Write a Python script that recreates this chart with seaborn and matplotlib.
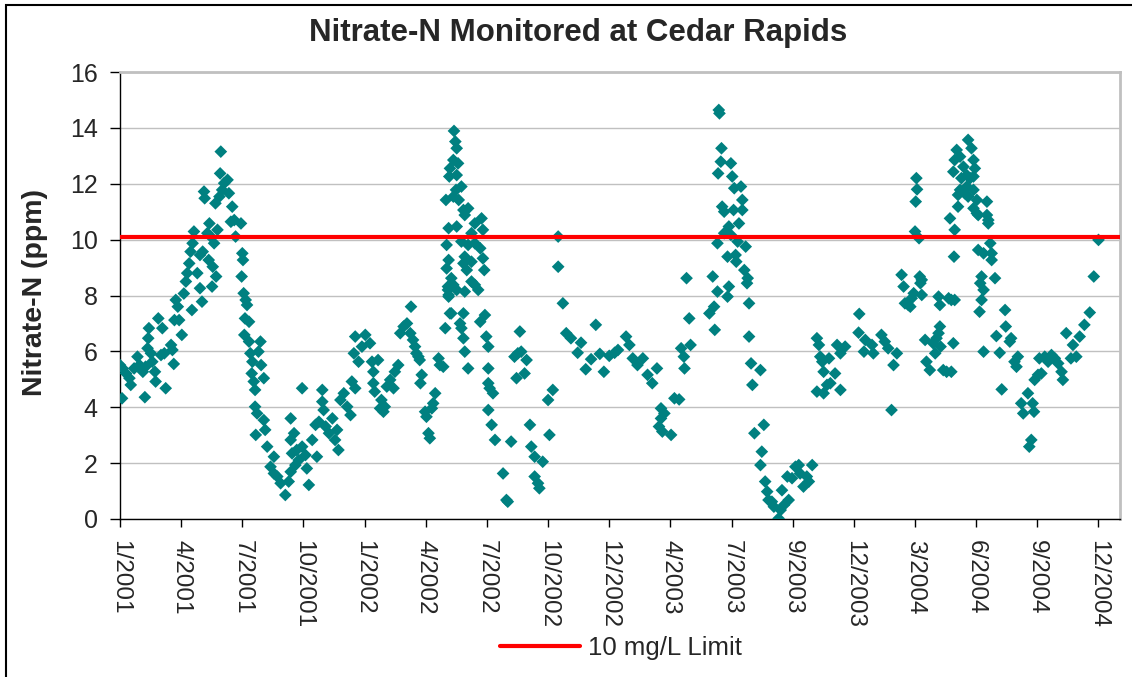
import pandas as pd
import matplotlib.pyplot as plt
import seaborn as sns
from matplotlib.lines import Line2D
from matplotlib.patches import Rectangle

# === DATA ===
# sample day = days since 1 Jan 2001, nitrate-N in ppm
DAY = [
    4, 1, 5, 10, 15, 17, 22, 27, 30, 35, 38, 39, 42, 43, 44, 47, 49, 53, 54, 58,
    62, 64, 67, 69, 77, 79, 81, 82, 84, 87, 89, 93, 96, 99, 101, 104, 106, 109, 111, 108,
    116, 120, 123, 120, 124, 126, 127, 131, 134, 136, 133, 139, 138, 144, 141, 146, 143, 149, 151, 150,
    153, 156, 161, 163, 168, 166, 171, 173,
    181, 183, 184, 182, 185, 188, 190, 187, 193, 186, 193, 195, 198, 210, 207, 211, 197, 200, 202, 215,
    202, 205, 215, 217, 203, 220, 230, 225, 230, 235, 240, 247, 252, 255, 255, 255, 260, 257, 264, 267,
    262, 272, 272, 277, 279, 282, 287, 292, 294, 297, 302, 302, 304, 307, 312, 317, 321, 326, 324, 329,
    334, 339, 346, 351, 344, 351, 349, 356, 361, 366,
    373, 376, 385, 378, 378, 380, 390, 388, 395, 393, 398, 403, 408, 410, 415, 418, 423, 428, 434, 433,
    437, 440, 442, 445, 447, 450, 448, 455, 457, 460, 462, 465, 467, 470, 475, 477, 482, 485, 492, 490,
    489, 487, 498, 500, 502, 497, 504, 492, 502, 491, 509, 501, 497, 486, 505, 512, 519, 514, 490, 502,
    529, 539, 541, 524, 487, 509, 519, 529, 537, 514, 541, 524, 490, 512, 517, 543, 494, 524, 497, 529,
    534, 489, 502, 514, 490, 494, 512, 507, 509, 544, 537, 512, 546, 549, 514, 519, 549, 549, 551, 556,
    549, 554, 559,
    571, 576, 578, 583, 588, 593, 598, 596, 606, 591, 603, 611, 613, 618, 618, 623, 625, 630, 640, 638,
    645, 653, 653, 660, 665, 672, 682, 687, 694, 702, 709, 715, 721, 729, 737, 742,
    754, 759, 764, 771, 779, 786, 793, 800, 806, 811, 806, 803, 808, 821, 826, 833, 836, 840, 841, 850,
    848, 844, 883, 878, 885, 886, 890, 892, 893, 896, 895, 891, 910, 912, 915, 925, 927, 897, 900, 914,
    927, 922, 907, 900, 910, 890, 920, 932, 905, 917, 918, 907, 905, 930, 935, 934, 937, 937, 940, 942,
    945,
    954, 959, 956, 954, 961, 964, 966, 971, 974, 981, 984, 989, 986, 996, 994, 1001, 1006, 1011, 1013, 1018,
    1023, 1026, 1031, 1038, 1041, 1043, 1046, 1048, 1056, 1053, 1058, 1038, 1048, 1065, 1073, 1068, 1073, 1080, 1101, 1100,
    1110, 1108, 1120, 1122,
    1134, 1139, 1144, 1157, 1152, 1149, 1164, 1167, 1169, 1174, 1179, 1182, 1177, 1186, 1187, 1185, 1184, 1190, 1191, 1194,
    1192, 1194, 1199, 1201, 1206, 1211, 1214, 1216, 1221, 1219, 1222, 1226, 1231, 1238, 1241, 1219, 1221, 1234, 1238, 1243,
    1242, 1243, 1236, 1248, 1241, 1243, 1246, 1251, 1256, 1253, 1251, 1248, 1258, 1263, 1268, 1271, 1273, 1261, 1266, 1271,
    1261, 1263, 1271, 1276, 1271, 1276, 1278, 1291, 1291, 1293, 1293, 1278, 1286, 1296, 1298, 1298, 1283, 1281, 1286, 1283,
    1280, 1303, 1286, 1305, 1310, 1318, 1319, 1313,
    1325, 1327, 1337, 1332, 1335, 1342, 1352, 1345, 1359, 1361, 1357, 1354, 1362, 1367, 1372, 1369, 1377, 1382, 1387, 1392,
    1397, 1402, 1404, 1409, 1416, 1419, 1424, 1429, 1436, 1444, 1450, 1457,
]
NITRATE = [
    4.32, 5.51, 5.39, 5.21, 5.04, 4.80, 5.39, 5.81, 5.51, 5.27, 4.36, 5.45, 6.11, 6.47, 6.83, 5.93, 5.63, 5.27, 4.92, 7.18,
    5.87, 6.83, 5.93, 4.68, 6.23, 6.05, 5.55, 7.12, 7.84, 7.60, 7.12, 6.59, 8.07, 8.50, 8.80, 9.15, 9.57, 9.87, 10.29, 7.48,
    8.80, 8.26, 7.78, 9.45, 9.57, 11.72, 11.48, 10.23, 10.58, 10.11, 9.27, 9.03, 8.32, 8.68, 9.87, 10.35, 11.30, 11.54, 13.15, 12.37,
    11.78, 12.02, 12.14, 11.66, 11.18, 10.64, 10.70, 10.11,
    10.58, 9.51, 9.27, 8.68, 8.08, 7.84, 7.66, 7.18, 7.06, 6.59, 6.35, 5.93, 5.63, 6.35, 5.99, 5.51, 5.21, 4.92, 4.62, 5.04,
    4.02, 3.78, 3.54, 3.19, 3.01, 2.59, 2.23, 1.87, 1.63, 1.52, 1.28, 0.86, 1.34, 1.69, 3.60, 2.83, 3.07, 2.35, 2.47, 2.11,
    1.93, 2.59, 4.68, 2.29, 1.81, 1.22, 2.83, 3.37, 2.23, 3.48, 4.62, 4.20, 3.90, 3.31, 3.07, 3.60, 2.83, 2.47, 3.19, 4.26,
    4.50, 4.02, 4.92, 4.68, 3.72, 6.53, 5.93, 5.63, 6.17, 6.59,
    6.29, 5.63, 5.69, 5.27, 4.86, 4.56, 4.26, 3.96, 4.02, 3.84, 4.74, 4.98, 4.68, 5.27, 5.51, 6.65, 6.89, 7.00, 7.60, 6.65,
    6.41, 6.17, 5.93, 5.81, 5.69, 5.16, 4.86, 3.84, 3.66, 3.07, 2.89, 3.96, 4.14, 4.50, 5.75, 5.51, 5.45, 6.83, 7.36, 8.02,
    8.32, 8.97, 13.89, 13.51, 13.27, 12.85, 12.73, 12.55, 12.31, 12.26, 11.90, 11.78, 11.54, 11.42, 11.42, 11.06, 11.12, 10.88, 10.41, 10.47,
    10.58, 10.76, 10.35, 10.23, 9.81, 9.93, 9.81, 9.87, 9.69, 9.39, 9.33, 9.21, 9.27, 9.15, 8.91, 8.91, 8.62, 8.50, 8.38, 8.38,
    8.20, 8.20, 8.20, 8.14, 7.96, 7.36, 7.36, 7.00, 6.83, 7.30, 7.06, 6.47, 6.53, 6.17, 5.99, 5.39, 5.39, 4.86, 4.68, 4.50,
    3.90, 3.37, 2.83,
    1.63, 0.68, 0.62, 2.77, 5.81, 5.93, 5.99, 6.71, 5.69, 5.04, 5.21, 3.37, 2.59, 2.23, 1.52, 1.28, 1.10, 2.05, 3.01, 4.26,
    4.62, 10.11, 9.03, 7.72, 6.65, 6.47, 5.95, 6.31, 5.36, 5.72, 6.95, 5.91, 5.27, 5.84, 5.95, 6.05,
    6.53, 6.23, 5.75, 5.51, 5.75, 5.16, 4.86, 5.39, 3.96, 3.78, 3.60, 3.31, 3.13, 3.01, 4.32, 4.28, 6.11, 5.81, 5.39, 6.23,
    7.18, 8.62, 8.68, 7.36, 7.60, 6.77, 8.14, 14.64, 14.52, 13.27, 12.79, 12.37, 12.73, 12.26, 11.84, 11.90, 11.42, 11.18, 11.00, 11.06,
    11.06, 10.58, 10.47, 10.23, 10.17, 9.87, 9.93, 9.75, 9.39, 9.45, 9.21, 8.32, 7.96, 8.91, 8.62, 8.44, 7.72, 6.53, 5.57, 4.80,
    3.07,
    5.33, 3.37, 2.41, 1.93, 1.34, 0.98, 0.68, 0.62, 0.44, 0.02, 0.32, 0.50, 1.03, 0.68, 1.52, 1.46, 1.87, 1.93, 1.63, 1.16,
    1.52, 1.34, 1.93, 6.47, 6.23, 5.81, 5.63, 5.27, 5.75, 4.80, 4.86, 4.56, 4.50, 5.21, 4.62, 6.23, 5.93, 6.17, 7.34, 6.67,
    6.41, 5.99, 6.23, 5.93,
    6.59, 6.35, 6.11, 5.93, 5.51, 3.90, 8.74, 8.32, 7.72, 7.66, 7.90, 8.08, 7.60, 12.20, 11.80, 11.36, 10.29, 10.05, 8.68, 8.56,
    8.44, 8.02, 6.41, 5.63, 5.33, 6.29, 5.93, 6.47, 6.89, 6.65, 6.17, 5.33, 5.27, 5.27, 6.29, 7.96, 7.66, 7.90, 7.84, 7.84,
    9.39, 10.35, 10.76, 11.18, 12.43, 12.85, 13.21, 12.97, 12.61, 12.20, 11.78, 11.60, 11.66, 13.57, 13.27, 12.85, 12.55, 12.31, 12.20, 12.26,
    11.90, 11.54, 11.78, 11.42, 11.12, 10.94, 10.88, 11.36, 10.88, 10.70, 10.58, 9.63, 9.51, 9.87, 9.51, 9.27, 8.68, 8.44, 8.20, 7.84,
    7.42, 8.62, 5.99, 6.55, 5.95, 7.48, 6.89, 4.64,
    6.35, 6.47, 5.81, 5.63, 5.45, 4.14, 4.50, 3.78, 4.14, 3.84, 2.83, 2.59, 4.98, 5.16, 5.21, 5.75, 5.81, 5.63, 5.87, 5.75,
    5.57, 5.27, 4.98, 6.65, 5.75, 6.23, 5.81, 6.53, 6.95, 7.39, 8.68, 9.99,
]
LIMIT = 10.1
LIMIT_LABEL = "10 mg/L Limit"
TICK_START = "2001-01-02"   # excel date axis: first tick, then every 91 days
TICK_STEP = 91
N_TICKS = 17

W, H = 1132, 677

sns.set_theme(style="white")
plt.rcParams["font.family"] = ["Liberation Sans", "DejaVu Sans"]

df = pd.DataFrame({
    "Date": pd.Timestamp("2001-01-01") + pd.to_timedelta(DAY, unit="D"),
    "Nitrate": NITRATE,
})

fig = plt.figure(figsize=(W / 100, H / 100), dpi=100)
fig.patch.set_facecolor("white")
ax = fig.add_axes([120 / W, 1 - 519 / H, 1000 / W, 447 / H])

sns.scatterplot(data=df, x="Date", y="Nitrate", marker="D", s=42, color="#008080",
                edgecolor="none", linewidth=0, ax=ax, zorder=3, legend=False)
ax.axhline(LIMIT, color="#ff0000", lw=3, zorder=4)

# axes
ticks = pd.date_range(TICK_START, periods=N_TICKS, freq=f"{TICK_STEP}D")
ax.set_xlim(ticks[0], ticks[0] + pd.Timedelta(days=1488))
ax.set_xticks(ticks)
ax.set_xticklabels([f"{t.month}/{t.year}" for t in ticks], rotation=-90)
ax.set_ylim(0, 16)
ax.set_yticks(range(0, 17, 2))
ax.yaxis.grid(True, color="#c0c0c0", lw=1)
ax.set_axisbelow(True)
ax.set_xlabel("")
ax.set_ylabel("")

ax.tick_params(axis="y", left=True, direction="out", length=7, width=1, color="black", pad=9, labelsize=18)
ax.tick_params(axis="x", bottom=True, direction="out", length=6, width=1, color="black", pad=9, labelsize=17.5)

for side in ["left", "bottom"]:
    ax.spines[side].set_color("black")
    ax.spines[side].set_linewidth(1)
for side in ["top", "right"]:
    ax.spines[side].set_color("#c0c0c0")
    ax.spines[side].set_linewidth(2)

#### LABELS
fig.text(578 / W, 1 - 33 / H, "Nitrate-N Monitored at Cedar Rapids", ha="center", va="center",
         fontsize=22.5, fontweight="bold")
fig.text(35 / W, 1 - 292 / H, "Nitrate-N (ppm)", rotation=90, ha="center", va="center",
         fontsize=20.5, fontweight="bold")

handle = Line2D([], [], color="#ff0000", lw=3)
fig.legend(handles=[handle], labels=[LIMIT_LABEL], loc="center", bbox_to_anchor=(621 / W, 1 - 648 / H),
           frameon=False, fontsize=18.5, handlelength=3.1, handletextpad=0.3)

# outer chart border (excel chart area)
fig.add_artist(Rectangle((6 / W, -0.05), 1.1, 1.05 - 5 / H, transform=fig.transFigure,
                         fill=False, edgecolor="black", lw=1.5))

plt.savefig("out.png", dpi=100)
